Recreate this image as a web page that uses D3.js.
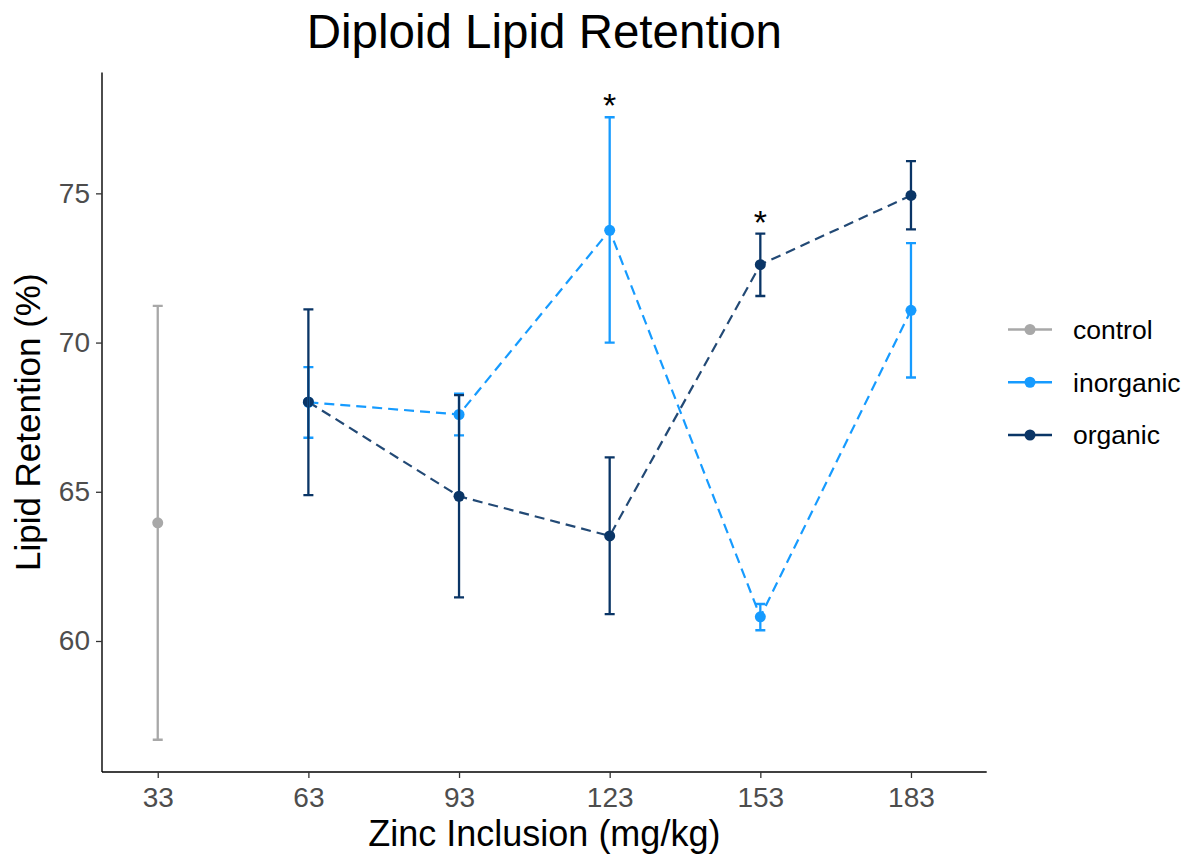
<!DOCTYPE html>
<html>
<head>
<meta charset="utf-8">
<script src="https://cdn.jsdelivr.net/npm/d3@7/dist/d3.min.js"></script>
<style>
  html, body { margin: 0; padding: 0; background: #fff; }
  svg { display: block; font-family: "Liberation Sans", Arial, Helvetica, sans-serif; }
</style>
</head>
<body>
<svg id="chart" width="1186" height="855"></svg>
<script>
// ---- data ----
const doses = [33, 63, 93, 123, 153, 183];
const xTickLabels = ["33", "63", "93", "123", "153", "183"];
const yTicks = [60, 65, 70, 75];
const groups = ["control", "inorganic", "organic"];
const groupColors = ["#A8A8A8", "#169BFF", "#0A3566"];

const controlX = [33];
const controlMean = [63.96];
const controlLow = [56.69];
const controlHigh = [71.23];

const inorganicX = [63, 93, 123, 153, 183];
const inorganicMean = [68.0, 67.59, 73.76, 60.81, 71.08];
const inorganicLow = [66.81, 66.89, 70.0, 60.36, 68.83];
const inorganicHigh = [69.18, 68.29, 77.55, 61.24, 73.33];

const organicX = [63, 93, 123, 153, 183];
const organicMean = [68.01, 64.85, 63.52, 72.61, 74.93];
const organicLow = [64.89, 61.46, 60.9, 71.56, 73.79];
const organicHigh = [71.11, 68.24, 66.15, 73.65, 76.08];

const starX = [123, 153];
const starY = [77.55, 73.65];
const starLabel = ["*", "*"];

// ---- layout ----
const svg = d3.select("#chart");
const pLeft = 102, pRight = 986.7, pTop = 72.5, pBottom = 772;

const x = d3.scaleLinear().domain([21.9, 198.08]).range([pLeft, pRight]);
const y = d3.scaleLinear().domain([55.61, 79.05]).range([pBottom, pTop]);
const color = d3.scaleOrdinal().domain(groups).range(groupColors);

function rows(xs, m, lo, hi) {
  return xs.map((d, i) => ({ x: d, mean: m[i], low: lo[i], high: hi[i] }));
}
const seriesData = [
  { name: "control", values: rows(controlX, controlMean, controlLow, controlHigh) },
  { name: "inorganic", values: rows(inorganicX, inorganicMean, inorganicLow, inorganicHigh) },
  { name: "organic", values: rows(organicX, organicMean, organicLow, organicHigh) }
];

// ---- axes ----
const xAxis = d3.axisBottom(x).tickValues(doses)
  .tickFormat((d, i) => xTickLabels[i]).tickSize(6).tickPadding(9).tickSizeOuter(0);
const yAxis = d3.axisLeft(y).tickValues(yTicks).tickSize(6).tickPadding(6).tickSizeOuter(0);

const gx = svg.append("g").attr("transform", `translate(0,${pBottom})`).call(xAxis);
const gy = svg.append("g").attr("transform", `translate(${pLeft},0)`).call(yAxis);
[gx, gy].forEach(g => {
  g.select(".domain").attr("stroke", "#000").attr("stroke-width", 1.4);
  g.selectAll(".tick line").attr("stroke", "#333").attr("stroke-width", 1.3);
  g.selectAll(".tick text").attr("fill", "#4D4D4D").attr("font-size", 28)
    .attr("font-family", '"Liberation Sans", Arial, sans-serif');
});
gx.select(".domain").attr("d", `M${pLeft},0H${pRight}`);
gy.select(".domain").attr("d", `M0,${pBottom}V${pTop}`);

// ---- lines ----
const line = d3.line().x(d => x(d.x)).y(d => y(d.mean));
svg.append("g").selectAll("path")
  .data(seriesData.filter(s => s.values.length > 1))
  .join("path")
  .attr("d", s => line(s.values))
  .attr("fill", "none")
  .attr("stroke", s => color(s.name))
  .attr("stroke-width", 2.2)
  .attr("stroke-dasharray", "10,6")
  .attr("opacity", s => s.name === "organic" ? 0.9 : 1);

// ---- points ----
const pts = svg.append("g");
seriesData.forEach(s => {
  pts.selectAll(null).data(s.values).join("circle")
    .attr("cx", d => x(d.x)).attr("cy", d => y(d.mean)).attr("r", 5.5)
    .attr("fill", color(s.name));
});

// ---- error bars ----
const eb = svg.append("g");
const capW = 5;
seriesData.forEach(s => {
  const g = eb.append("g").attr("stroke", color(s.name)).attr("stroke-width", 2.3).attr("fill", "none");
  g.selectAll("path").data(s.values).join("path")
    .attr("d", d => `M${x(d.x) - capW},${y(d.high)}H${x(d.x) + capW}M${x(d.x)},${y(d.high)}V${y(d.low)}M${x(d.x) - capW},${y(d.low)}H${x(d.x) + capW}`);
});

// ---- significance stars ----
svg.append("g").selectAll("text")
  .data(starX.map((d, i) => ({ x: d, y: starY[i], t: starLabel[i] })))
  .join("text")
  .attr("x", d => x(d.x)).attr("y", d => y(d.y))
  .attr("text-anchor", "middle").attr("font-size", 34).attr("fill", "#000")
  .text(d => d.t);

// ---- titles ----
svg.append("text").attr("x", (pLeft + pRight) / 2).attr("y", 48)
  .attr("text-anchor", "middle").attr("font-size", 47.5).attr("fill", "#000")
  .text("Diploid Lipid Retention");
svg.append("text").attr("x", (pLeft + pRight) / 2).attr("y", 846)
  .attr("text-anchor", "middle").attr("font-size", 36).attr("fill", "#000")
  .text("Zinc Inclusion (mg/kg)");
svg.append("text").attr("transform", `translate(40,${(pTop + pBottom) / 2}) rotate(-90)`)
  .attr("text-anchor", "middle").attr("font-size", 35).attr("fill", "#000")
  .text("Lipid Retention (%)");

// ---- legend ----
const legendY = d3.scalePoint().domain(groups).range([329.5, 435]);
const lg = svg.append("g");
groups.forEach(gname => {
  const yy = legendY(gname);
  lg.append("line").attr("x1", 1008).attr("x2", 1052).attr("y1", yy).attr("y2", yy)
    .attr("stroke", color(gname)).attr("stroke-width", 2.5);
  lg.append("circle").attr("cx", 1030).attr("cy", yy).attr("r", 5.5).attr("fill", color(gname));
  lg.append("text").attr("x", 1073).attr("y", yy).attr("dy", "0.35em")
    .attr("font-size", 26.5).attr("fill", "#000").text(gname);
});
</script>
</body>
</html>
